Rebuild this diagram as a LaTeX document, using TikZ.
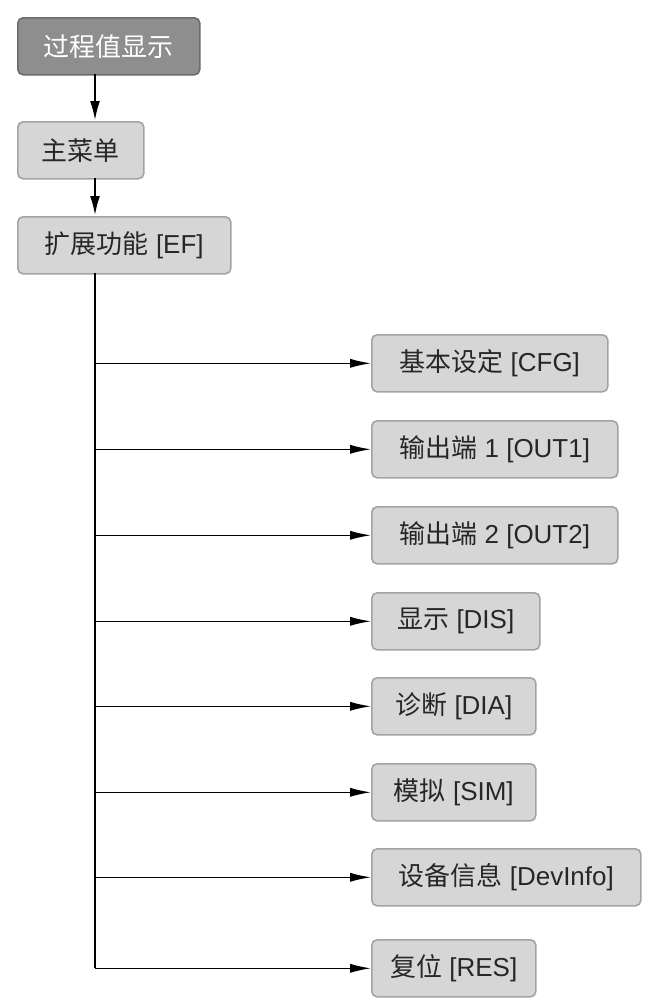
\documentclass[tikz,border=0pt]{standalone}
\usepackage{fontspec}
\setmainfont{Liberation Sans}
\newfontfamily\cjk{Noto Sans CJK SC}
\newcommand{\zh}[1]{{\cjk #1}}
\usetikzlibrary{arrows.meta,positioning}
\definecolor{boxfill}{HTML}{D6D6D6}
\definecolor{boxline}{HTML}{A3A3A3}
\definecolor{topfill}{HTML}{8E8E8E}
\definecolor{topline}{HTML}{6C6C6C}
\begin{document}
\begin{tikzpicture}[x=0.0264cm, y=-0.0264cm,
        box/.style={rectangle, draw=boxline, fill=boxfill, line width=1.2pt, rounded corners=4pt, anchor=north west, minimum height=57*0.0264cm, inner xsep=0pt, font=\fontsize{19.5}{23}\selectfont, text=black!85},
        topbox/.style={box, fill=topfill, draw=topline, text=white},
        flow/.style={-{Latex[length=5mm,width=2.6mm]}, line width=1.1pt},
        branch/.style={-{Latex[length=5.5mm,width=2.4mm]}, line width=1.1pt},
    ]
        \useasboundingbox (0,0) rectangle (650,1004);
        % Top chain
        \node[topbox, minimum width=182*0.0264cm] (pv) at (17,17) {\zh{过程值显示}};
        \node[box, minimum width=126*0.0264cm] (main) at (17,121) {\zh{主菜单}};
        \node[box, minimum width=213*0.0264cm] (ef) at (17,216) {\zh{扩展功能} [EF]};
        \draw[flow] (95,74) -- (95,120);
        \draw[flow] (95,178) -- (95,215);
        % Submenus
        \node[box, minimum width=236*0.0264cm] (cfg) at (371,334) {\zh{基本设定} [CFG]};
        \node[box, minimum width=246*0.0264cm] (out1) at (371,420) {\zh{输出端} 1 [OUT1]};
        \node[box, minimum width=246*0.0264cm] (out2) at (371,506) {\zh{输出端} 2 [OUT2]};
        \node[box, minimum width=168*0.0264cm] (dis) at (371,592) {\zh{显示} [DIS]};
        \node[box, minimum width=164*0.0264cm] (dia) at (371,677) {\zh{诊断} [DIA]};
        \node[box, minimum width=164*0.0264cm] (sim) at (371,763) {\zh{模拟} [SIM]};
        \node[box, minimum width=269*0.0264cm] (dev) at (371,848) {\zh{设备信息} [DevInfo]};
        \node[box, minimum width=164*0.0264cm] (res) at (371,939) {\zh{复位} [RES]};
        \coordinate (trunk) at (95,273);
        \draw[line width=1.1pt] (trunk) -- (trunk |- res.west);
        \foreach \n in {cfg,out1,out2,dis,dia,sim,dev,res}
            \draw[branch] (trunk |- \n.west) -- (\n.west);
    \end{tikzpicture}
\end{document}
